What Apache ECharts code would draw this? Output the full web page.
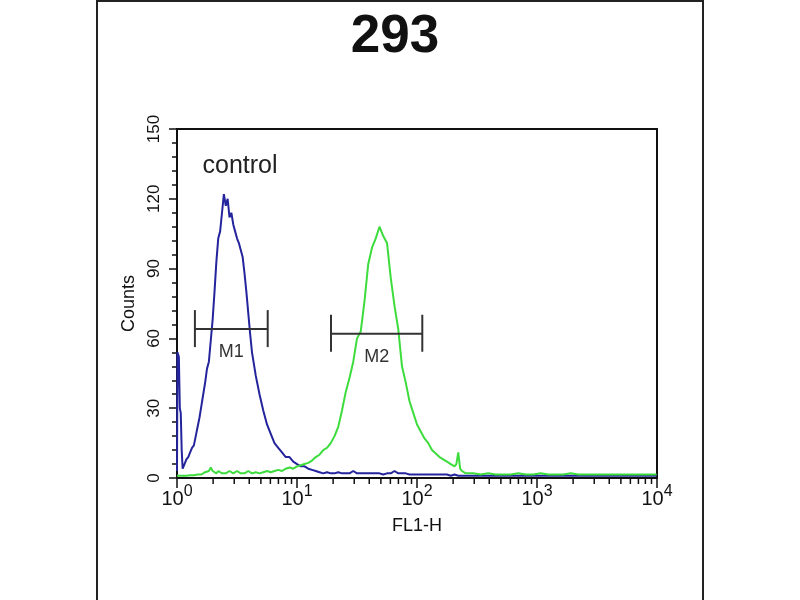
<!DOCTYPE html>
<html><head><meta charset="utf-8">
<script src="https://cdn.jsdelivr.net/npm/echarts@6/dist/echarts.min.js"></script>
<style>html,body{margin:0;padding:0;background:#fff}#c{width:800px;height:600px}</style>
</head><body><div id="c"></div><script>
// FACS channels (256 channels per decade, 1024 channels over 4 decades)
const channels = [0,1,4,6,8,10,12,14,16,
  20,24,28,32,36,40,44,48,52,56,60,64,68,72,76,80,84,88,92,96,100,104,108,112,116,120,124,128,132,136,140,144,148,152,156,160,
  168,176,184,192,200,208,216,224,232,240,248,256,264,272,280,288,296,304,312,320,328,336,344,352,360,368,376,384,392,400,
  408,416,424,432,440,448,456,464,472,480,488,496,504,512,520,528,536,544,552,560,568,576,584,592,
  596,600,604,608,
  616,632,648,664,680,696,712,728,744,760,776,792,808,824,840,856,872,888,904,920,936,952,968,984,1000,1016,1023];

const controlCounts = [3,54,52,30,28,12,4,5,6,
  8,9,11,13,14,18,22,26,31,36,41,47,50,59,68,80,93,103,106,114,122,117,120,112,114,109,106,103,101,98,95,88,80,71,62,54,
  44,36,29,23,19,15,13,11,9,9,7,6,5,5,4,3.5,3,2.5,2,2.5,2,2,2.5,2,2,2,3,2,2,2,
  2,2,2,2,1.5,2,2,3,2,2,2,1.5,1.5,1.5,1.5,1.5,1.5,1.5,1.5,1.5,1.5,1.5,1,1.5,
  1.5,1,1,1,
  1,1,1,1,1,1,1,1,1,1,1,1,1,1,1,1,1,1,1,1,1,1,1,1,1,1,1];

const sampleCounts = [1,1,1,1,1,1,1,1,1,
  1,1,1.2,1.2,1.2,1.5,1.5,2,1.5,2,2.5,2,3,4.5,3,2.5,2,3,2.5,2,2.5,2,2.5,3,2.5,2,2.5,3,2.5,2,2.5,2,2.5,3,2.5,2,
  2.5,2,2.5,3,2.5,3,3.5,3,4,4.5,4,5,5.5,6,6.5,7.5,9,10,12,13,15,18,22,29,37,43,50,60,63,76,
  92,99,103,108,104,101,86,74,64,48,41,33,28,23,20,17,15,12,10.5,9,8,7,6,5,
  6,11,4,3,
  2,2,1.5,2,1.5,1.5,1.5,2,1.5,1.5,2,1.5,1.5,1.5,2,1.5,1.5,1.5,1.5,1.5,1.5,1.5,1.5,1.5,1.5,1.5,1.5];

const yTickValues = [0,30,60,90,120,150];
const xDecadeExponents = ['0','1','2','3','4'];
const xMinorTicks = [2,3,4,5,6,7,8,9,20,30,40,50,60,70,80,90,200,300,400,500,600,700,800,900,2000,3000,4000,5000,6000,7000,8000,9000];

const markerNames = ['M1','M2'];
const markerFrom = [1.41, 19.2];
const markerTo = [5.70, 110.7];
const markerLevel = [64, 62];

const toFL = ch => Math.pow(10, ch / 256);
const controlData = channels.map((c, i) => [toFL(c), controlCounts[i]]);
const sampleData = channels.map((c, i) => [toFL(c), sampleCounts[i]]);

const FONT = "'Liberation Sans', Arial, sans-serif";
const chart = echarts.init(document.getElementById('c'), null, {renderer: 'canvas'});
chart.setOption({
  animation: false,
  backgroundColor: '#fff',
  grid: {left: 177, top: 129, width: 480, height: 349, show: true, borderColor: '#111', borderWidth: 2, containLabel: false},
  xAxis: {
    type: 'log', logBase: 10, min: 1, max: 10000, splitNumber: 4,
    axisLine: {show: true, lineStyle: {color: '#111', width: 2}},
    axisTick: {show: true, length: 10, lineStyle: {color: '#111', width: 1.5}},
    splitLine: {show: false},
    axisLabel: {
      margin: 6, color: '#111', fontFamily: FONT,
      formatter: v => {
        const e = Math.round(Math.log10(v));
        return '{b|10}{s|' + xDecadeExponents[e] + '}';
      },
      rich: {
        b: {fontSize: 20, lineHeight: 31, fontFamily: FONT, color: '#111'},
        s: {fontSize: 16, lineHeight: 14, verticalAlign: 'top', fontFamily: FONT, color: '#111'}
      }
    },
    name: 'FL1-H', nameLocation: 'middle', nameGap: 39,
    nameTextStyle: {fontSize: 18, color: '#111', fontFamily: FONT}
  },
  yAxis: {
    type: 'value', min: 0, max: 150, interval: 30,
    axisLine: {show: true, lineStyle: {color: '#111', width: 2}},
    axisTick: {show: true, length: 8, lineStyle: {color: '#111', width: 1.5}},
    minorTick: {show: true, splitNumber: 5, length: 5, lineStyle: {color: '#111', width: 1.5}},
    splitLine: {show: false},
    axisLabel: {rotate: 90, margin: 14, fontSize: 17, color: '#111', fontFamily: FONT,
      formatter: v => yTickValues.indexOf(v) >= 0 ? String(v) : ''},
    name: 'Counts', nameLocation: 'middle', nameGap: 34,
    nameTextStyle: {fontSize: 18, color: '#111', fontFamily: FONT}
  },
  series: [
    {type: 'line', name: 'control', data: controlData, showSymbol: false, symbol: 'none',
      lineStyle: {color: '#24249c', width: 2}, z: 3},
    {type: 'line', name: '293', data: sampleData, showSymbol: false, symbol: 'none',
      lineStyle: {color: '#3ddc3d', width: 2}, z: 4},
    {type: 'custom', name: 'minorTicks', silent: true, clip: false, z: 10,
      data: xMinorTicks.map(v => [v, 0]),
      encode: {x: 0, y: 1},
      renderItem: (params, api) => {
        const p = api.coord([api.value(0), 0]);
        return {type: 'line', shape: {x1: p[0], y1: p[1], x2: p[0], y2: p[1] + 6},
          style: {stroke: '#111', lineWidth: 1.5}};
      }},
    {type: 'custom', name: 'markers', silent: true, clip: false, z: 8,
      data: markerNames.map((n, i) => [markerFrom[i], markerTo[i], markerLevel[i]]),
      encode: {x: [0, 1], y: 2},
      renderItem: (params, api) => {
        const a = api.coord([api.value(0), api.value(2)]);
        const b = api.coord([api.value(1), api.value(2)]);
        const st = {stroke: '#333', lineWidth: 2};
        return {type: 'group', children: [
          {type: 'line', shape: {x1: a[0], y1: a[1], x2: b[0], y2: b[1]}, style: st},
          {type: 'line', shape: {x1: a[0], y1: a[1] - 19, x2: a[0], y2: a[1] + 18}, style: st},
          {type: 'line', shape: {x1: b[0], y1: b[1] - 19, x2: b[0], y2: b[1] + 18}, style: st},
          {type: 'text', x: (a[0] + b[0]) / 2, y: a[1] + 23,
            style: {text: markerNames[params.dataIndex], fill: '#333', fontSize: 18, fontFamily: FONT,
              align: 'center', verticalAlign: 'middle'}}
        ]};
      }}
  ],
  graphic: [
    {type: 'text', x: 395, y: 37, style: {text: '293', fontSize: 53, fontWeight: 'bold', fontFamily: FONT,
      fill: '#111', align: 'center', verticalAlign: 'middle'}},
    {type: 'text', x: 240, y: 166, style: {text: 'control', fontSize: 25, fontFamily: FONT,
      fill: '#222', align: 'center', verticalAlign: 'middle'}},
    {type: 'line', shape: {x1: 97, y1: 0, x2: 97, y2: 600}, style: {stroke: '#222', lineWidth: 2}},
    {type: 'line', shape: {x1: 703, y1: 0, x2: 703, y2: 600}, style: {stroke: '#222', lineWidth: 2}},
    {type: 'line', shape: {x1: 97, y1: 1, x2: 703, y2: 1}, style: {stroke: '#222', lineWidth: 2}}
  ]
});
</script></body></html>
